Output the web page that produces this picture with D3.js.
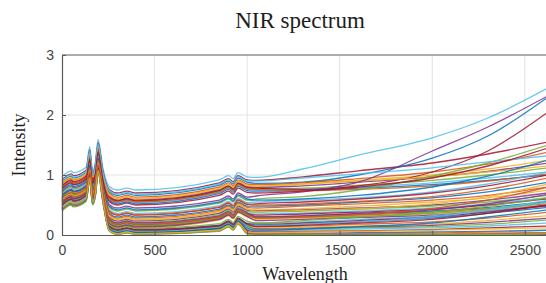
<!DOCTYPE html>
<html>
<head>
<meta charset="utf-8">
<script src="https://cdn.jsdelivr.net/npm/d3@7"></script>
<style>
  body { margin: 0; background: #fff; }
  svg { display: block; }
</style>
</head>
<body>
<svg id="chart"></svg>
<script>
// sample points along the wavelength axis
let wavelength = [0, 50, 60, 130, 150, 165, 180, 195, 220, 255, 300, 350, 400, 850, 900, 925, 950, 1000, 1050, 1300, 1600, 2000, 2300, 2625];

let xTicks = [0, 500, 1000, 1500, 2000, 2500];
let yTicks = [0, 1, 2, 3];

// one row per spectrum, same length as wavelength
let spectra = [
  [.97, 1.07, 1.04, 1.13, 1.47, 1.07, 1.21, 1.59, 1.13, .81, .75, .78, .75, .92, .99, .94, 1.04, .97, .96, 1.10, 1.33, 1.62, 1.95, 2.45],
  [.92, 1.02, .99, 1.08, 1.42, 1.02, 1.16, 1.54, 1.08, .76, .70, .73, .70, .87, .94, .89, .99, .92, .91, .97, 1.07, 1.20, 1.35, 1.55],
  [.88, .98, .95, 1.04, 1.38, .98, 1.12, 1.50, 1.04, .72, .66, .69, .66, .83, .90, .85, .95, .88, .86, .88, 1.00, 1.28, 1.65, 2.30],
  [.85, .95, .92, 1.01, 1.35, .95, 1.09, 1.47, 1.01, .69, .63, .66, .63, .80, .87, .82, .92, .85, .84, .87, .94, 1.05, 1.18, 1.38],
  [.83, .93, .90, .99, 1.33, .93, 1.07, 1.45, .99, .66, .60, .63, .60, .77, .84, .79, .89, .82, .81, .85, .91, 1.00, 1.10, 1.25],
  [.80, .90, .87, .96, 1.30, .90, 1.04, 1.42, .96, .64, .58, .61, .58, .75, .82, .77, .87, .80, .79, .82, .88, .97, 1.06, 1.20],
  [.78, .88, .85, .94, 1.28, .88, 1.02, 1.40, .94, .62, .56, .59, .56, .73, .80, .75, .85, .78, .77, .78, .83, .91, 1.00, 1.12],
  [.76, .86, .83, .92, 1.26, .86, 1.00, 1.38, .92, .60, .54, .57, .54, .71, .78, .73, .83, .76, .75, .76, .80, .87, .95, 1.05],
  [.82, .92, .89, .98, 1.32, .92, 1.06, 1.44, .98, .63, .57, .60, .57, .74, .81, .76, .86, .79, .78, .76, .82, 1.05, 1.40, 2.05],
  [.74, .84, .81, .90, 1.24, .84, .98, 1.36, .90, .58, .52, .55, .52, .69, .76, .71, .81, .74, .73, .74, .78, .84, .91, 1.00],
  [.79, .89, .86, .95, 1.29, .89, 1.03, 1.41, .95, .61, .55, .58, .55, .72, .79, .74, .84, .77, .76, .74, .76, .82, .90, 1.02],
  [.86, .96, .93, 1.02, 1.36, .96, 1.10, 1.48, 1.02, .67, .61, .64, .61, .78, .85, .80, .90, .83, .82, .85, .90, .97, 1.05, 1.15],
  [.72, .82, .79, .88, 1.22, .82, .96, 1.34, .88, .51, .45, .48, .45, .58, .65, .60, .70, .63, .65, .72, .88, 1.40, 1.80, 2.32],
  [.70, .80, .77, .86, 1.20, .80, .94, 1.32, .86, .46, .40, .43, .40, .53, .60, .55, .65, .58, .60, .64, .75, .98, 1.20, 1.50],
  [.68, .78, .75, .84, 1.18, .78, .92, 1.30, .84, .42, .36, .39, .36, .49, .56, .51, .61, .54, .55, .58, .62, .72, .85, 1.05],
  [.66, .76, .73, .82, 1.16, .76, .90, 1.28, .82, .39, .33, .36, .33, .46, .53, .48, .58, .51, .52, .55, .60, .70, .82, 1.00],
  [.64, .74, .71, .80, 1.14, .74, .88, 1.26, .80, .36, .30, .33, .30, .43, .50, .45, .55, .48, .48, .50, .55, .62, .72, .88],
  [.62, .72, .69, .78, 1.12, .72, .86, 1.24, .78, .34, .28, .31, .28, .41, .48, .43, .53, .46, .45, .48, .52, .58, .66, .80],
  [.63, .73, .70, .79, 1.13, .73, .87, 1.25, .79, .31, .25, .28, .25, .38, .45, .40, .50, .43, .42, .44, .48, .55, .62, .75],
  [.60, .70, .67, .76, 1.10, .70, .84, 1.22, .76, .29, .23, .26, .23, .36, .43, .38, .48, .41, .40, .42, .45, .50, .58, .70],
  [.61, .71, .68, .77, 1.11, .71, .85, 1.23, .77, .27, .21, .24, .21, .34, .41, .36, .46, .39, .38, .40, .43, .48, .55, .66],
  [.58, .68, .65, .74, 1.08, .68, .82, 1.20, .74, .25, .19, .22, .19, .32, .39, .34, .44, .37, .35, .37, .40, .45, .52, .62],
  [.59, .69, .66, .75, 1.09, .69, .83, 1.21, .75, .23, .17, .20, .17, .30, .37, .32, .42, .35, .33, .35, .38, .43, .50, .60],
  [.57, .67, .64, .73, 1.07, .67, .81, 1.19, .73, .21, .15, .18, .15, .28, .35, .30, .40, .33, .30, .32, .35, .40, .46, .56],
  [.56, .66, .63, .72, 1.06, .66, .80, 1.18, .72, .20, .14, .17, .14, .27, .34, .29, .39, .32, .28, .30, .33, .38, .44, .52],
  [.55, .65, .62, .71, 1.05, .65, .79, 1.17, .71, .18, .12, .15, .12, .25, .32, .27, .37, .30, .26, .28, .30, .35, .42, .50],
  [.57, .67, .64, .73, 1.07, .67, .81, 1.19, .73, .19, .13, .16, .13, .26, .33, .28, .38, .31, .24, .26, .29, .33, .40, .48],
  [.60, .70, .67, .76, 1.10, .70, .84, 1.22, .76, .22, .16, .19, .16, .29, .36, .31, .41, .34, .30, .30, .31, .36, .43, .55],
  [.55, .65, .62, .71, 1.05, .65, .79, 1.17, .71, .16, .10, .13, .10, .17, .24, .19, .29, .20, .20, .22, .26, .32, .40, .55],
  [.53, .63, .60, .69, 1.03, .63, .77, 1.15, .69, .15, .09, .12, .09, .16, .23, .18, .28, .19, .18, .20, .24, .30, .38, .50],
  [.52, .62, .59, .68, 1.02, .62, .76, 1.14, .68, .14, .08, .11, .08, .15, .22, .17, .27, .18, .16, .18, .22, .28, .36, .46],
  [.50, .60, .57, .66, 1.00, .60, .74, 1.12, .66, .13, .07, .10, .07, .14, .21, .16, .26, .17, .14, .15, .18, .22, .28, .38],
  [.49, .59, .56, .65, .99, .59, .73, 1.11, .65, .12, .06, .09, .06, .13, .20, .15, .25, .16, .12, .13, .15, .18, .24, .32],
  [.48, .58, .55, .64, .98, .58, .72, 1.10, .64, .11, .05, .08, .05, .12, .19, .14, .24, .15, .10, .11, .13, .16, .21, .28],
  [.47, .57, .54, .63, .97, .57, .71, 1.09, .63, .11, .05, .08, .05, .12, .19, .14, .24, .15, .09, .10, .12, .14, .18, .25],
  [.46, .56, .53, .62, .96, .56, .70, 1.08, .62, .10, .04, .07, .04, .11, .18, .13, .23, .10, .07, .08, .10, .12, .15, .20],
  [.45, .55, .52, .61, .95, .55, .69, 1.07, .61, .09, .03, .06, .03, .10, .17, .12, .22, .08, .05, .06, .07, .09, .12, .15],
  [.44, .54, .51, .60, .94, .54, .68, 1.06, .60, .09, .03, .06, .03, .10, .17, .12, .22, .06, .03, .03, .04, .05, .06, .08],
  [.43, .53, .50, .59, .93, .53, .67, 1.05, .59, .08, .02, .05, .02, .09, .16, .11, .21, .05, .02, .02, .02, .03, .05, .04],
  [.42, .52, .49, .58, .92, .52, .66, 1.04, .58, .08, .02, .05, .02, .08, .15, .10, .20, .04, .01, .01, .01, .02, .03, .02],
  [.41, .51, .48, .57, .91, .51, .65, 1.03, .57, .07, .01, .04, .01, .07, .14, .09, .19, .03, .01, .01, .01, .01, .02, .01],
  [.40, .50, .47, .56, .90, .50, .64, 1.02, .56, .07, .01, .03, .01, .06, .13, .08, .18, .02, 0, .01, 0, .01, .01, .02],
  [.90, 1.00, .97, 1.06, 1.40, 1.00, 1.14, 1.52, 1.06, .74, .68, .71, .68, .85, .92, .87, .97, .90, .90, .95, 1.02, 1.12, 1.22, 1.32],
  [.77, .87, .84, .93, 1.27, .87, 1.01, 1.39, .93, .56, .50, .53, .50, .66, .73, .68, .78, .71, .70, .73, .80, .95, 1.15, 1.45],
  [.65, .75, .72, .81, 1.15, .75, .89, 1.27, .81, .48, .42, .45, .42, .55, .62, .57, .67, .60, .58, .60, .66, .80, .98, 1.25],
  [.62, .72, .69, .78, 1.12, .72, .86, 1.24, .78, .40, .34, .37, .34, .47, .54, .49, .59, .52, .50, .52, .56, .64, .76, .95],
  [.58, .68, .65, .74, 1.08, .68, .82, 1.20, .74, .32, .26, .29, .26, .39, .46, .41, .51, .44, .39, .41, .44, .52, .64, .85],
  [.54, .64, .61, .70, 1.04, .64, .78, 1.16, .70, .26, .20, .23, .20, .32, .39, .34, .44, .37, .30, .32, .36, .42, .52, .68],
  [.51, .61, .58, .67, 1.01, .61, .75, 1.13, .67, .17, .11, .14, .11, .19, .26, .21, .31, .23, .20, .24, .30, .38, .48, .62],
  [.47, .57, .54, .63, .97, .57, .71, 1.09, .63, .13, .07, .10, .07, .14, .21, .16, .26, .17, .15, .18, .22, .30, .42, .58],
  [.50, .60, .57, .66, 1.00, .60, .74, 1.12, .66, .14, .08, .11, .08, .15, .22, .17, .27, .18, .14, .16, .20, .26, .36, .50],
  [.44, .54, .51, .60, .94, .54, .68, 1.06, .60, .10, .04, .07, .04, .11, .18, .13, .23, .12, .08, .10, .14, .20, .30, .42],
  [.56, .66, .63, .72, 1.06, .66, .80, 1.18, .72, .24, .18, .21, .18, .30, .37, .32, .42, .35, .28, .30, .34, .44, .58, .80],
  [.45, .55, .52, .61, .95, .55, .69, 1.07, .61, .08, .02, .05, .02, .08, .15, .10, .20, .05, .04, .05, .06, .08, .10, .12]
];

// matlab default colour order
let lineColors = ['#0072BD', '#D95319', '#EDB120', '#7E2F8E', '#77AC30', '#4DBEEE', '#A2142F'];

let svgWidth = 546,
    svgHeight = 283,
    plotLeft = 62,
    plotRight = 548,
    plotTop = 55,
    plotBottom = 235;

let svg = d3.select('#chart')
            .attr('width', svgWidth)
            .attr('height', svgHeight);

let xScale = d3.scaleLinear()
               .domain([0, 2625])
               .range([plotLeft, plotRight]);

let yScale = d3.scaleLinear()
               .domain([0, 3])
               .range([plotBottom, plotTop]);

let colorScale = d3.scaleOrdinal()
                   .domain(d3.range(lineColors.length))
                   .range(lineColors);

// grid
svg.append('g')
   .selectAll('line')
   .data(xTicks.slice(1))
   .enter()
   .append('line')
   .attr('x1', d => xScale(d))
   .attr('x2', d => xScale(d))
   .attr('y1', plotTop)
   .attr('y2', plotBottom)
   .attr('stroke', '#e3e3e3')
   .attr('stroke-width', 1);

svg.append('g')
   .selectAll('line')
   .data(yTicks.slice(1, -1))
   .enter()
   .append('line')
   .attr('x1', plotLeft)
   .attr('x2', plotRight)
   .attr('y1', d => yScale(d))
   .attr('y2', d => yScale(d))
   .attr('stroke', '#e3e3e3')
   .attr('stroke-width', 1);

// spectra
let line = d3.line()
             .x((d, i) => xScale(wavelength[i]))
             .y(d => yScale(d))
             .curve(d3.curveMonotoneX);

svg.append('g')
   .selectAll('path')
   .data(spectra)
   .enter()
   .append('path')
   .attr('d', d => line(d))
   .attr('fill', 'none')
   .attr('stroke', (d, i) => colorScale((i + 5) % lineColors.length))
   .attr('stroke-width', 1.3)
   .attr('stroke-opacity', 0.85);

// axes (matlab style: ticks pointing in, box on top/left)
let xAxis = d3.axisBottom(xScale)
              .tickValues(xTicks)
              .tickFormat(d3.format('d'))
              .tickSizeInner(-4)
              .tickSizeOuter(0)
              .tickPadding(10);

let yAxis = d3.axisLeft(yScale)
              .tickValues(yTicks)
              .tickFormat(d3.format('d'))
              .tickSizeInner(-4)
              .tickSizeOuter(0)
              .tickPadding(8);

let gx = svg.append('g')
            .attr('transform', `translate(0,${plotBottom})`)
            .call(xAxis);

let gy = svg.append('g')
            .attr('transform', `translate(${plotLeft},0)`)
            .call(yAxis);

[gx, gy].forEach(g => {
  g.select('.domain').attr('stroke', '#5a5a5a').attr('stroke-width', 1.2);
  g.selectAll('.tick line').attr('stroke', '#5a5a5a');
  g.selectAll('.tick text')
   .attr('fill', '#444')
   .style('font-family', '"Liberation Sans", Arial, sans-serif')
   .style('font-size', '14px');
});

// top border
svg.append('line')
   .attr('x1', plotLeft)
   .attr('x2', plotRight)
   .attr('y1', plotTop)
   .attr('y2', plotTop)
   .attr('stroke', '#5a5a5a')
   .attr('stroke-width', 1.2);

// titles
svg.append('text')
   .attr('x', 300)
   .attr('y', 28)
   .attr('text-anchor', 'middle')
   .style('font-family', '"Liberation Serif", "Times New Roman", serif')
   .style('font-size', '23px')
   .attr('fill', '#1e1e1e')
   .text('NIR spectrum');

svg.append('text')
   .attr('transform', 'translate(25,145) rotate(-90)')
   .attr('text-anchor', 'middle')
   .style('font-family', '"Liberation Serif", "Times New Roman", serif')
   .style('font-size', '18px')
   .attr('fill', '#1e1e1e')
   .text('Intensity');

svg.append('text')
   .attr('x', 305)
   .attr('y', 280)
   .attr('text-anchor', 'middle')
   .style('font-family', '"Liberation Serif", "Times New Roman", serif')
   .style('font-size', '18px')
   .attr('fill', '#1e1e1e')
   .text('Wavelength');
</script>
</body>
</html>
